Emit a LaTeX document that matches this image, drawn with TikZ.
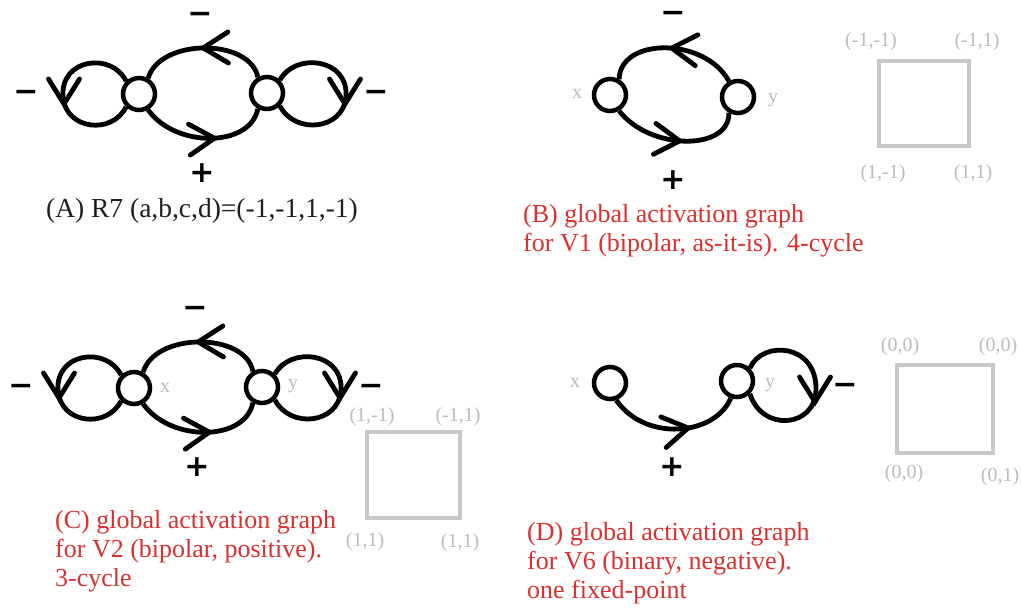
\documentclass[tikz,border=0pt]{standalone}
\usepackage{fontspec}
\setmainfont{Liberation Serif}
\newfontfamily\signfont{DejaVu Sans}
\usetikzlibrary{decorations.markings}
\definecolor{capred}{RGB}{218,48,48}
\definecolor{lblgray}{RGB}{188,188,188}
\definecolor{sqgray}{RGB}{200,200,200}
\definecolor{ink}{RGB}{0,0,0}
\tikzset{
  vtx/.style={circle, draw=ink, line width=4.5pt, minimum size=32pt, inner sep=0pt},
  edge/.style={draw=ink, line width=4.8pt},
  chevshape/.style={draw=ink, line width=4.8pt, line cap=round},
  chev/.style={postaction={decorate}, decoration={markings, mark=at position #1 with {\draw[chevshape] (-25pt,15.5pt)--(0pt,0pt)--(-25pt,-15.5pt);}}},
  sign/.style={font=\signfont\bfseries\fontsize{30}{30}\selectfont, text=ink, inner sep=0pt},
  lbl/.style={font=\fontsize{20}{22}\selectfont, text=lblgray, inner sep=0pt},
  sq/.style={draw=sqgray, line width=4.5pt},
  captext/.style={font=\fontsize{26}{29}\selectfont, align=left, inner sep=0pt, anchor=west},
}
% downward chevron whose tip is at the given coordinate
\newcommand\downchev[1]{\draw[chevshape, shift={#1}, rotate=-90] (-25pt,15.5pt)--(0pt,0pt)--(-25pt,-15.5pt);}
\begin{document}
\begin{tikzpicture}[x=1pt,y=-1pt]
\useasboundingbox[fill=white] (0,0) rectangle (1021,608);

% ---------- Panel A ----------
\node[vtx] (a1) at (139,94) {};
\node[vtx] (a2) at (267,93) {};
\draw[edge, chev=0.5] (a2.120) .. controls (250,38) and (160,38) .. (a1.60);
\draw[edge, chev=0.57] (a1.-60) .. controls (175,148) and (250,148) .. (a2.-120);
\draw[edge] (a1.135) .. controls (112,52) and (60,58) .. (63,97) .. controls (66,130) and (112,135) .. (a1.225);
\draw[edge] (a2.45) .. controls (295,52) and (349,58) .. (346,97) .. controls (343,130) and (295,135) .. (a2.-45);
\downchev{(64,104)}
\downchev{(345,104)}
\node[sign] (aTop) at (200,18) {−};
\node[sign] (aBot) at (202,173) {+};
\node[sign] (aL) at (26,96) {−};
\node[sign] (aR) at (376,96) {−};
\node[font=\fontsize{27.5}{29}\selectfont, text=black!88, inner sep=0pt] (capA) at (202,211) {(A) R7 (a,b,c,d)=(-1,-1,1,-1)};

% ---------- Panel B ----------
\node[vtx] (b1) at (610,95) {};
\node[vtx] (b2) at (738,97) {};
\draw[edge, chev=0.5] (b2.120) .. controls (705,37) and (620,37) .. (b1.60);
\draw[edge, chev=0.52] (b1.-60) .. controls (650,151) and (730,151) .. (b2.-120);
\node[sign] (bTop) at (673,17) {−};
\node[sign] (bBot) at (673,180) {+};
\node[lbl] (bx) at (577,94) {x};
\node[lbl] (by) at (773,100) {y};
\draw[sq] (879,61) rectangle (969,146);
\node[lbl] (b11) at (871,42) {(-1,-1)};
\node[lbl] (b12) at (977,42) {(-1,1)};
\node[lbl] (b21) at (883,174) {(1,-1)};
\node[lbl] (b22) at (973,174) {(1,1)};
\node[captext, text=capred] (capB) at (523,231) {(B) global activation graph\\for V1 (bipolar, as-it-is). 4-cycle};

% ---------- Panel C ----------
\begin{scope}[shift={(-5,294)}]
\node[vtx] (c1) at (139,94) {};
\node[vtx] (c2) at (267,93) {};
\draw[edge, chev=0.5] (c2.120) .. controls (250,38) and (160,38) .. (c1.60);
\draw[edge, chev=0.57] (c1.-60) .. controls (175,148) and (250,148) .. (c2.-120);
\draw[edge] (c1.135) .. controls (112,52) and (60,58) .. (63,97) .. controls (66,130) and (112,135) .. (c1.225);
\draw[edge] (c2.45) .. controls (295,52) and (349,58) .. (346,97) .. controls (343,130) and (295,135) .. (c2.-45);
\node[sign] (cTop) at (200,18) {−};
\node[sign] (cBot) at (202,173) {+};
\node[sign] (cL) at (26,96) {−};
\node[sign] (cR) at (376,96) {−};
\end{scope}
\downchev{(59,398)}
\downchev{(340,398)}
\node[lbl] (cx) at (165,388) {x};
\node[lbl] (cy) at (293,386) {y};
\draw[sq] (367,432) rectangle (460,518);
\node[lbl] (c11) at (372,417) {(1,-1)};
\node[lbl] (c12) at (458,417) {(-1,1)};
\node[lbl] (c21) at (365,542) {(1,1)};
\node[lbl] (c22) at (460,543) {(1,1)};
\node[captext, text=capred] (capC) at (55,551) {(C) global activation graph\\for V2 (bipolar, positive).\\3-cycle};

% ---------- Panel D ----------
\node[vtx] (d1) at (610,383) {};
\node[vtx] (d2) at (737,381) {};
\draw[edge, chev=0.6] (d1.-70) .. controls (645,442) and (715,436) .. (d2.-110);
\draw[edge] (d2.45) .. controls (762,340) and (817,343) .. (816,390) .. controls (815,428) and (762,432) .. (d2.-45);
\downchev{(815,402)}
\node[sign] (dBot) at (672,467) {+};
\node[sign] (dR) at (845,389) {−};
\node[lbl] (dx) at (575,383) {x};
\node[lbl] (dy) at (770,385) {y};
\draw[sq] (897,365) rectangle (993,453);
\node[lbl] (d11) at (900,347) {(0,0)};
\node[lbl] (d12) at (998,347) {(0,0)};
\node[lbl] (d21) at (904,474) {(0,0)};
\node[lbl] (d22) at (1000,477) {(0,1)};
\node[captext, text=capred] (capD) at (527,563) {(D) global activation graph\\for V6 (binary, negative).\\one fixed-point};
\end{tikzpicture}
\end{document}
